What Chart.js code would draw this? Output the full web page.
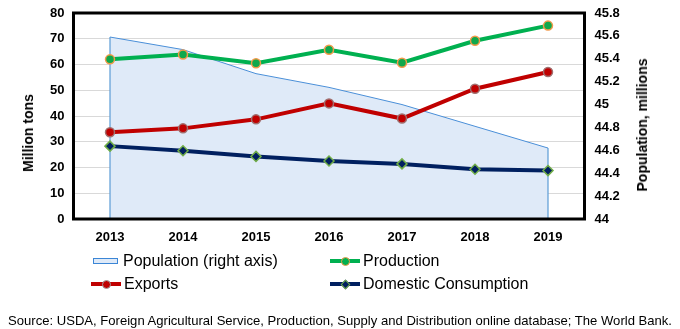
<!DOCTYPE html>
<html><head><meta charset="utf-8">
<script src="https://cdn.jsdelivr.net/npm/chart.js@4/dist/chart.umd.min.js"></script>
<style>
html,body{margin:0;padding:0;background:#fff;}
#wrap{position:relative;width:680px;height:329px;font-family:"Liberation Sans",Arial,sans-serif;color:#000;}
#c{position:absolute;left:0;top:0;}
.item{position:absolute;font-size:16px;line-height:18px;white-space:nowrap;display:flex;align-items:center;}
.sym{position:relative;display:inline-block;height:18px;margin-right:4px;}
.bar{position:absolute;left:0;right:0;top:7px;height:4px;}
.dot{position:absolute;left:50%;top:9px;width:7px;height:7px;margin-left:-4.5px;margin-top:-4.5px;border-radius:50%;border:1px solid;}
.dia{position:absolute;left:50%;top:9px;width:5px;height:5px;margin-left:-3.5px;margin-top:-3.5px;transform:rotate(45deg);border:1px solid;}
#src{position:absolute;left:8px;top:313px;font-size:13px;line-height:16px;white-space:nowrap;transform-origin:0 0;}
.atitle{position:absolute;font-size:14px;font-weight:bold;line-height:16px;white-space:nowrap;transform:translate(-50%,-50%) rotate(-90deg);}
</style>
</head><body>
<div id="wrap">
<canvas id="c" width="680" height="329"></canvas>
<div class="atitle" id="tl" style="left:28px;top:133px;">Million tons</div>
<div class="atitle" id="tr" style="left:642px;top:125px;">Population, millions</div>
<div class="item" style="left:93px;top:252px;"><span class="sym" style="width:25px;"><span style="position:absolute;left:0;top:6px;width:23px;height:4px;border:1px solid #3b86d6;background:#dfeaf8;"></span></span><span style="margin-left:1px">Population (right axis)</span></div>
<div class="item" style="left:330px;top:252px;"><span class="sym" style="width:30px;"><span class="bar" style="background:#00b050"></span><span class="dot" style="background:#00b050;border-color:#f29a4a"></span></span><span style="margin-left:-1px">Production</span></div>
<div class="item" style="left:91px;top:275px;"><span class="sym" style="width:30px;"><span class="bar" style="background:#c00000"></span><span class="dot" style="background:#c00000;border-color:#a0a0a0"></span></span><span style="margin-left:-1px">Exports</span></div>
<div class="item" style="left:330px;top:275px;"><span class="sym" style="width:30px;"><span class="bar" style="background:#002060"></span><span class="dia" style="background:#002060;border-color:#70ad47"></span></span><span style="margin-left:-1px">Domestic Consumption</span></div>
<div id="src">Source: USDA, Foreign Agricultural Service, Production, Supply and Distribution online database; The World Bank.</div>
</div>
<script>
const years = ['2013','2014','2015','2016','2017','2018','2019'];
const population = [45.59, 45.48, 45.27, 45.15, 45.00, 44.81, 44.62];
const production = [62.0, 63.9, 60.5, 65.7, 60.7, 69.2, 75.1];
const exportsData = [33.7, 35.2, 38.7, 44.9, 39.0, 50.6, 57.1];
const domestic = [28.3, 26.5, 24.3, 22.5, 21.4, 19.3, 18.8];
const leftTicks = {min: 0, max: 80, step: 10};
const rightTicks = {min: 44, max: 45.8, step: 0.2};

(function(){
  const s = document.getElementById('src');
  const w = s.getBoundingClientRect().width;
  s.style.transform = 'scaleX(' + (664 / w) + ')';
})();

const framePlugin = {
  id: 'frame',
  afterDraw(chart) {
    const a = chart.chartArea, ctx = chart.ctx;
    ctx.save();
    ctx.strokeStyle = '#000';
    ctx.lineWidth = 3;
    ctx.strokeRect(a.left, a.top, a.right - a.left, a.bottom - a.top);
    ctx.restore();
  }
};

const popEdges = {
  id: 'popEdges',
  afterDatasetDraw(chart, args) {
    if (args.index !== 0) return;
    const pts = args.meta.data, ctx = chart.ctx, a = chart.chartArea;
    ctx.save();
    ctx.strokeStyle = '#5b9bd5';
    ctx.lineWidth = 1.2;
    [pts[0], pts[pts.length-1]].forEach(p => {
      ctx.beginPath();
      ctx.moveTo(p.x, p.y);
      ctx.lineTo(p.x, a.bottom);
      ctx.stroke();
    });
    ctx.restore();
  }
};

const tickFont = {family: '"Liberation Sans", Arial, sans-serif', size: 13, weight: 'bold'};

new Chart(document.getElementById('c'), {
  type: 'line',
  data: {
    labels: years,
    datasets: [
      {label: 'Population (right axis)', data: population, yAxisID: 'y1', order: 10,
       borderColor: '#4a8fd8', borderWidth: 1, backgroundColor: '#dfeaf8',
       fill: 'start', pointRadius: 0, tension: 0},
      {label: 'Production', data: production, yAxisID: 'y', order: 3,
       borderColor: '#00b050', borderWidth: 4, pointRadius: 4.5, pointBorderWidth: 1.5,
       pointBackgroundColor: '#10a84c', pointBorderColor: '#f29a4a', tension: 0},
      {label: 'Exports', data: exportsData, yAxisID: 'y', order: 2,
       borderColor: '#c00000', borderWidth: 4, pointRadius: 4.5, pointBorderWidth: 1.5,
       pointBackgroundColor: '#c00000', pointBorderColor: '#a07070', tension: 0},
      {label: 'Domestic Consumption', data: domestic, yAxisID: 'y', order: 1,
       borderColor: '#002060', borderWidth: 4, pointRadius: 5, pointStyle: 'rectRot', pointBorderWidth: 1.5,
       pointBackgroundColor: '#002060', pointBorderColor: '#70ad47', tension: 0}
    ]
  },
  options: {
    responsive: false,
    animation: false,
    layout: {padding: {top: 13, left: 0, right: 0, bottom: 0}},
    plugins: {legend: {display: false}, tooltip: {enabled: false}},
    scales: {
      x: {
        offset: true,
        grid: {display: false, drawTicks: false},
        border: {display: false},
        ticks: {color: '#000', font: tickFont, padding: 11, maxRotation: 0},
        afterFit(s) { s.height = 110; }
      },
      y: {
        position: 'left',
        min: leftTicks.min, max: leftTicks.max,
        ticks: {stepSize: leftTicks.step, color: '#000', font: tickFont, padding: 9},
        grid: {color: '#d9d9d9', lineWidth: 1, drawTicks: false},
        border: {display: false},
        afterFit(s) { s.width = 73.5; s.paddingTop = 8; s.paddingBottom = 8; }
      },
      y1: {
        position: 'right',
        min: rightTicks.min, max: rightTicks.max,
        ticks: {stepSize: rightTicks.step, color: '#000', font: tickFont, padding: 10,
                callback: v => String(Number(v.toFixed(1)))},
        grid: {display: false, drawTicks: false},
        border: {display: false},
        afterFit(s) { s.width = 95.5; s.paddingTop = 8; s.paddingBottom = 8; }
      }
    }
  },
  plugins: [popEdges, framePlugin]
});
</script>
</body></html>
